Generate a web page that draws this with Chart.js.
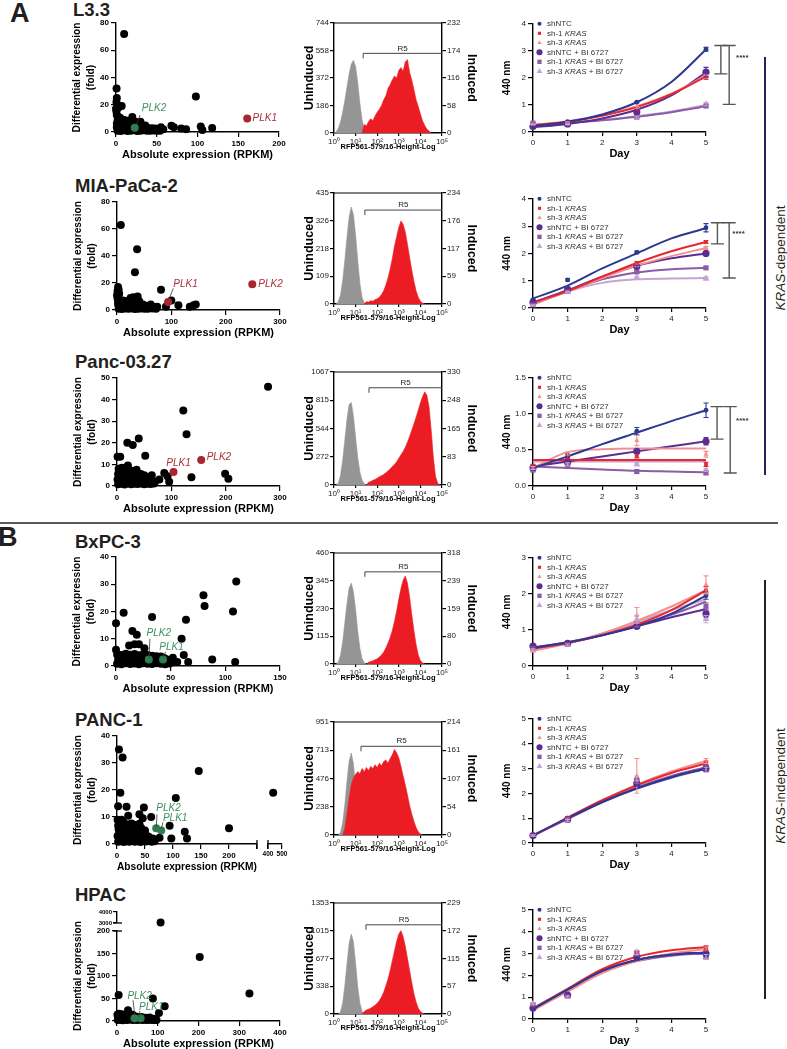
<!DOCTYPE html>
<html>
<head>
<meta charset="utf-8">
<title>PLK expression, induction and growth</title>
<script src="https://cdn.jsdelivr.net/npm/chart.js@4.4.1/dist/chart.umd.min.js"></script>
<style>
  body { margin: 0; background: #fff; font-family: 'Liberation Sans', Arial, sans-serif; }
  #fig { position: relative; width: 787px; height: 1049px; overflow: hidden; }
  .lbl { position: absolute; font-weight: bold; color: #231f20; white-space: nowrap; line-height: 1; }
  .rule { position: absolute; }
  .side { position: absolute; font-size: 13.5px; color: #231f20; white-space: nowrap; line-height: 1;
          transform: translate(-50%, -50%) rotate(-90deg); }
</style>
</head>
<body>
<div id="fig">
  <div class="lbl" style="left:10px;top:0px;font-size:27px">A</div>
  <div class="lbl" style="left:-2px;top:524px;font-size:27px">B</div>
  <div class="lbl" style="left:73px;top:1px;font-size:18.5px">L3.3</div>
  <div class="lbl" style="left:75px;top:177px;font-size:18.5px">MIA-PaCa-2</div>
  <div class="lbl" style="left:75px;top:353px;font-size:18.5px">Panc-03.27</div>
  <div class="lbl" style="left:75px;top:533px;font-size:18.5px">BxPC-3</div>
  <div class="lbl" style="left:75px;top:711px;font-size:18.5px">PANC-1</div>
  <div class="lbl" style="left:75px;top:886px;font-size:18.5px">HPAC</div>
  <div class="rule" style="left:0;top:522px;width:778px;height:1.5px;background:#5a5a5a"></div>
  <div class="rule" style="left:764px;top:57px;width:1.5px;height:418px;background:#23235e"></div>
  <div class="rule" style="left:764px;top:580px;width:1.5px;height:419px;background:#222"></div>
  <div class="side" style="left:781px;top:258px"><i>KRAS</i>-dependent</div>
  <div class="side" style="left:781px;top:786px"><i>KRAS</i>-independent</div>
</div>
<script>
// ---------- scatter data: [RPKM, fold] ----------
const l33Pts = [[10,72],[0.7,32],[1,25],[0.5,22],[1.5,20],[0,17],[0.5,15],[7,19],[3,18],[20,11],[98,26],[68,4.5],[71,3.5],[80,2.5],[86,2],[104,4],[106,1.5],[118,3],[55,3.5],[58,2],
  [2,1],[6,0.8],[10,1.2],[14,0.8],[18,1],[22,1.2],[26,0.8],[30,1],[34,1.2],[38,0.9],[42,1],[46,1.1],[50,0.9],[54,1],
  [4,2.2],[8,2.4],[12,2],[16,2.3],[20,2.1],[24,2.4],[28,2.2],[32,2.3],[36,2],[40,2.2],[44,1.8],[48,1.6],[52,2],
  [1,3.5],[5,3.8],[9,3.2],[13,3.6],[17,3.3],[21,3.8],[27,3.5],[31,3.2],[35,3.6],[39,3],[44,2.8],[48,2.5],
  [3,5],[7,4.8],[11,5.2],[15,4.9],[19,5],[23,4.7],[27,4.5],
  [1,6],[4,6.5],[8,6.2],[12,6.8],[16,6],[20,6.5],[24,5.8],[28,5.5],[32,5],[36,4.8],
  [6,7.5],[12,7.7],[18,7],
  [2,8.5],[6,9],[10,8.8],[14,8.2],[18,8],[24,7.6],[30,7.5],[3,11],[1,12.5],[5,10.5]];
const l33Hits = [[161,10],[23,3.2]];

const miaPts = [[7,63],[37,45],[33,28],[2,17],[1,14],[81,15],[38,10],[100,7],[113,3.5],[90,2.5],[134,2.5],[141,3.5],[145,4],[62,4],[74,2.5],[55,3],[48,4],
  [0,11],[1,8.5],[2,6],[4,12],[3,15],
  [3,1],[9,0.8],[15,1.2],[21,1],[27,1.2],[33,0.8],[39,1],[45,1.1],[51,0.9],[57,1],[65,1.2],[72,1],
  [6,2.5],[12,2.2],[18,2.6],[24,2.3],[30,2.5],[36,2.2],[42,2.4],[48,2],[56,2.3],[62,2],[68,2.2],
  [2,4],[8,4.5],[14,3.8],[20,4.3],[26,3.6],[32,4.4],[38,4],[44,3.5],[50,3.2],
  [4,5.8],[10,5.6],[16,5.5],[22,5.8],[28,5.4],[34,5.7],[40,5.2],
  [5,7.5],[11,7],[17,6.6],[23,7.2],[29,7.8],[35,7.4],[41,6.5],[30,9.5],[25,8.8]];
const miaHits = [[94,6],[249,19]];

const pncPts = [[278,46],[122,35],[128,24],[19,20],[29,19],[40,22],[52,14],[1,13.5],[6,13.5],[20,9.5],[137,4],[199,5.7],[205,3.4],[87,6],[93,4.5],[96,2],[78,3],[70,2],[64,5],[58,4],
  [2,0.8],[8,1],[14,0.7],[20,1.1],[26,0.8],[32,1],[38,0.9],[44,1.2],[50,0.8],[56,1],[62,0.9],[68,1.2],
  [5,2],[11,2],[17,2],[23,2],[29,1.8],[35,2],[41,2],[47,1.9],[53,2],[59,2.2],[65,2.5],
  [1,3],[7,3.3],[13,2.8],[19,3.4],[25,3],[31,2.7],[37,3.2],[43,3],[49,2.6],[55,3.3],
  [5,4.2],[11,4.3],[17,4.5],[23,4.2],[29,4.1],[35,4],[41,4.2],[47,4],
  [2,5.5],[8,6],[14,5.2],[20,5.8],[26,5],[32,5.4],[38,4.8],[44,5.5],[50,5],
  [6,7],[12,6.8],[18,6.7],[26,6.5],[33,6.3],
  [3,8],[9,8.5],[15,7.5],[22,7.8],[30,7],[36,7.5]];
const pncHits = [[104,6.5],[155,12]];

const bxPts = [[110,31],[80,26],[81,22],[107,20],[7,19.5],[33,18],[64,17],[0,15.7],[15,12.8],[19,11.5],[60,10],[88,2.4],[109,1.5],[62,4],[66,1.5],[56,1.5],[12,7.5],[17,8],[21,8],[26,6.5],[0,6],[52,3],[48,2],
  [1,0.8],[5,0.6],[9,1],[13,0.7],[17,0.9],[21,0.6],[25,1],[29,0.8],[33,0.7],[37,1],[41,0.8],[45,0.6],[49,0.9],
  [3,1.6],[7,1.8],[11,1.5],[15,1.7],[19,1.6],[23,1.8],[27,1.5],[31,1.7],[35,1.6],[39,1.8],[43,1.5],[47,1.7],[51,1.4],
  [2,2.5],[6,2.8],[10,2.3],[14,2.7],[18,2.4],[22,2.8],[26,2.3],[34,2.6],[38,2.9],[46,2.5],
  [4,3.3],[8,3.5],[12,3.2],[16,3.4],[20,3.3],[24,3.5],[28,3.2],[32,3.3],[36,3.1],[40,3],[44,2.9],
  [1,4.2],[5,4],[9,4.5],[13,4.1],[17,4.4],[21,3.9],[25,4.3],[29,4],[33,3.8],[37,3.6],[41,3.5]];
const bxHits = [[30,2.4],[43,2.4]];

const p1Pts = [[3.5,35],[10,32],[6,19],[2,14],[17,13.8],[20,10.5],[146,27],[105,17],[48,13.5],[40,11],[46,9.5],[61,10],[94,6.8],[76,2.3],[97,2],[121,4.5],[125,2],[200,5.8],[1,9],[8,9],
  [2,0.8],[7,1],[12,0.7],[17,1],[22,0.8],[27,1.1],[32,0.8],[37,1],[42,0.7],[47,1],[52,0.9],[57,1.1],[62,0.8],[67,1],
  [4,2],[9,1.9],[14,2],[19,2.1],[24,2],[29,2.1],[34,1.8],[39,2],[44,2],[49,2.1],[54,1.9],[59,2],[64,2],
  [1,3],[6,3.3],[11,2.8],[16,3.2],[21,2.9],[26,3.4],[31,3],[36,2.7],[41,3.2],[46,2.9],[51,3.3],[56,2.8],
  [4,4.3],[9,4.5],[14,4.2],[19,4.4],[24,4.1],[29,4.3],[34,4],[39,4.2],[44,4.1],[49,4],
  [3,5.5],[8,6],[13,5.3],[18,5.8],[23,5.2],[28,5.6],[33,5],[38,5.4],[43,6],[50,5],
  [2,6.8],[9,6.8],[16,6.6],[23,6.7],[30,6.5],[37,6.3],
  [5,7.5],[12,8],[19,7.2],[26,7.6],[33,7],[40,7.5]];
const p1Hits = [[70,5.8],[79,5]];
const p1FarPts = [[437,19]];

const hpPts = [[203,142],[325,61],[4,58],[88,50],[117,33],[103,18],[27,24],[38,14],
  [2,2],[8,3],[14,1.5],[20,3],[26,2],[32,4],[38,2],[44,3],[50,2],[56,3.5],[62,2],[68,3],[74,2],[80,3],[86,2],[92,2.5],[97,2],
  [5,5],[11,6],[17,5],[24,6],[30,5],[36,7],[48,5],[54,5],[66,5],[76,5],[84,5],[90,5],
  [3,9],[9,11],[15,8],[21,12],[28,9],[34,11],[46,10],[52,8],[60,9],[70,7],[80,8],[1,14],[5,16],[12,15]];
const hpHits = [[43,6],[58,6]];
const hpHighPts = [[107,3040]];

// ---------- flow histograms: counts per 0.1-decade bin ----------
const l33Gray = [0,8,30,75,140,220,310,400,465,492,450,340,200,90,25,0];            // from 10^0.0
const l33Red = [0,18,15,24,30,26,36,44,50,58,70,78,94,102,112,120,116,132,138,130,150,155,128,112,92,70,56,40,26,16,8,4,0]; // from 10^1.3
const miaGray = [0,10,35,90,170,260,340,380,350,270,170,80,25,5,0];                 // from 10^0.1
const miaRed = [0,5,4,7,6,9,11,14,20,28,40,55,74,96,122,142,162,175,168,152,126,98,72,48,28,14,6,2,0]; // from 10^1.4
const pncGray = [0,20,90,230,420,620,760,780,650,450,260,120,45,12,0];              // from 10^0.1
const pncRed = [0,8,10,14,16,20,24,27,31,36,41,47,54,60,68,78,88,98,110,125,142,160,178,198,218,240,258,272,262,228,160,80,25,5,0]; // from 10^1.5
const bxGray = [0,8,35,90,170,250,315,335,300,225,135,65,22,5,0];                   // from 10^0.1
const bxRed = [0,5,7,9,12,15,20,26,34,46,60,76,96,122,152,186,216,240,252,232,192,142,96,56,26,10,3,0]; // from 10^1.5
const p1Gray = [0,20,100,250,450,620,690,600,400,200,70,15,0];                      // from 10^0.2
const p1Red = [0,12,40,70,95,108,115,120,116,126,120,128,122,130,126,133,128,136,131,139,142,136,145,152,162,156,146,130,112,95,76,56,40,26,14,6,2,0]; // from 10^0.4
const hpGray = [0,25,130,340,610,860,975,880,620,330,130,30,0];                     // from 10^0.2
const hpRed = [0,5,8,10,12,15,18,22,28,35,45,58,72,90,110,130,150,165,172,160,140,115,90,65,42,25,12,5,2,0]; // from 10^1.3

const histTicksL = { l33: ['0','186','372','558','744'], mia: ['0','109','218','326','435'], pnc: ['0','272','544','815','1067'],
                     bx: ['0','115','230','345','460'], p1: ['0','238','476','713','951'], hp: ['0','338','677','1015','1353'] };
const histTicksR = { l33: ['0','58','116','174','232'], mia: ['0','59','117','176','234'], pnc: ['0','83','165','248','330'],
                     bx: ['0','80','159','239','318'], p1: ['0','54','107','161','214'], hp: ['0','57','115','172','229'] };
const decadeLabels = ['10\u2070','10\u00b9','10\u00b2','10\u00b3','10\u2074','10\u2075'];

// ---------- growth (440 nm) ----------
const days = [0, 1, 3, 5];
const fitDays = [0, 1, 2, 3, 4, 5];
const seriesNames = [['shNTC'], ['sh-1 ', 'KRAS'], ['sh-3 ', 'KRAS'], ['shNTC + BI 6727'], ['sh-1 ', 'KRAS', ' + BI 6727'], ['sh-3 ', 'KRAS', ' + BI 6727']];
const seriesColors = ['#2b3990', '#e8262d', '#f1908f', '#5c2d91', '#8b5ca8', '#c5a3d2'];
const seriesStyles = ['circle', 'rect', 'triangle', 'circle', 'rect', 'triangle'];
const seriesSizes = [2.4, 2.6, 2.9, 3.6, 3.6, 3.9];

const l33Mean = [[0.28,0.38,1.1,3.06],[0.25,0.35,0.85,2.0],[0.3,0.36,0.9,2.05],[0.2,0.3,0.74,2.21],[0.33,0.3,0.55,0.96],[0.28,0.28,0.55,1.03]];
const l33Err  = [[0.02,0.02,0.03,0.07],[0.02,0.02,0.04,0.05],[0.02,0.02,0.04,0.06],[0.02,0.02,0.08,0.18],[0.02,0.02,0.04,0.05],[0.02,0.02,0.04,0.06]];
const l33Fit  = [[0.22,0.38,0.65,1.1,1.85,3.05],[0.25,0.38,0.6,0.92,1.4,2.05],[0.26,0.4,0.62,0.95,1.42,2.08],[0.18,0.3,0.5,0.82,1.35,2.2],[0.25,0.33,0.43,0.56,0.73,0.95],[0.26,0.34,0.44,0.58,0.76,1.0]];

const miaMean = [[0.3,1.03,2.04,2.94],[0.2,0.65,1.65,2.42],[0.15,0.6,1.55,2.2],[0.2,0.68,1.52,2.0],[0.15,0.62,1.32,1.47],[0.1,0.58,1.1,1.08]];
const miaErr  = [[0.02,0.04,0.05,0.15],[0.02,0.03,0.05,0.05],[0.02,0.03,0.05,0.05],[0.02,0.03,0.05,0.05],[0.02,0.03,0.05,0.05],[0.02,0.03,0.04,0.05]];
const miaFit  = [[0.35,0.82,1.45,2.0,2.55,2.92],[0.2,0.62,1.15,1.65,2.08,2.42],[0.15,0.6,1.1,1.55,1.9,2.2],[0.2,0.65,1.15,1.55,1.82,2.0],[0.15,0.62,1.05,1.3,1.42,1.47],[0.12,0.6,0.92,1.05,1.08,1.1]];

const pncMean = [[0.25,0.42,0.76,1.05],[0.28,0.4,0.42,0.3],[0.25,0.45,0.63,0.44],[0.25,0.33,0.48,0.62],[0.22,0.28,0.2,0.18],[0.25,0.3,0.3,0.22]];
const pncErr  = [[0.02,0.02,0.05,0.1],[0.02,0.02,0.03,0.03],[0.02,0.02,0.07,0.04],[0.02,0.02,0.03,0.05],[0.02,0.02,0.02,0.02],[0.02,0.02,0.02,0.02]];
const pncFit  = [[0.25,0.41,0.58,0.74,0.9,1.05],[0.36,0.36,0.36,0.36,0.36,0.36],[0.25,0.47,0.51,0.52,0.52,0.52],[0.27,0.34,0.41,0.48,0.55,0.62],[0.27,0.25,0.23,0.21,0.2,0.19],[0.34,0.34,0.34,0.34,0.34,0.34]];

const bxMean = [[0.5,0.62,1.1,1.95],[0.5,0.62,1.15,2.1],[0.42,0.6,1.4,2.25],[0.55,0.63,1.1,1.45],[0.5,0.6,1.15,1.65],[0.45,0.58,1.3,1.3]];
const bxErr  = [[0.03,0.03,0.05,0.1],[0.03,0.03,0.06,0.1],[0.03,0.03,0.22,0.25],[0.03,0.03,0.05,0.1],[0.03,0.03,0.06,0.1],[0.03,0.03,0.1,0.1]];
const bxFit  = [[0.5,0.65,0.85,1.1,1.45,1.95],[0.48,0.64,0.86,1.15,1.55,2.1],[0.42,0.62,0.9,1.25,1.65,2.1],[0.52,0.66,0.86,1.1,1.35,1.58],[0.5,0.64,0.85,1.12,1.42,1.78],[0.45,0.63,0.9,1.22,1.55,1.85]];

const p1Mean = [[0.3,1.0,2.4,3.0],[0.3,1.0,2.5,3.2],[0.3,0.95,2.7,3.3],[0.3,0.95,2.4,3.0],[0.3,0.95,2.5,3.05],[0.3,0.9,2.6,2.95]];
const p1Err  = [[0.03,0.05,0.1,0.1],[0.03,0.05,0.1,0.1],[0.03,0.05,0.7,0.1],[0.03,0.05,0.1,0.1],[0.03,0.05,0.1,0.1],[0.03,0.05,0.1,0.1]];
const p1Fit  = [[0.3,1.0,1.65,2.2,2.65,3.0],[0.3,1.02,1.72,2.32,2.82,3.2],[0.28,1.0,1.72,2.35,2.88,3.3],[0.3,0.98,1.65,2.2,2.65,3.0],[0.3,0.98,1.66,2.24,2.7,3.05],[0.3,0.96,1.63,2.18,2.62,2.98]];

const hpMean = [[0.55,1.05,2.8,3.0],[0.6,1.0,3.0,3.25],[0.7,1.0,3.05,3.2],[0.5,1.1,2.85,3.0],[0.65,1.05,3.0,2.85],[0.7,1.0,3.05,2.85]];
const hpErr  = [[0.05,0.05,0.1,0.1],[0.05,0.05,0.1,0.1],[0.05,0.05,0.1,0.1],[0.05,0.05,0.1,0.1],[0.05,0.05,0.1,0.1],[0.05,0.05,0.1,0.1]];
const hpFit  = [[0.45,1.35,2.2,2.7,2.95,3.05],[0.45,1.38,2.28,2.85,3.15,3.3],[0.4,1.25,2.1,2.65,3.0,3.2],[0.45,1.35,2.2,2.7,2.95,3.05],[0.5,1.35,2.15,2.65,2.9,3.0],[0.5,1.38,2.2,2.7,2.95,3.05]];

// ---------- helpers ----------
const FONT = "'Liberation Sans', Arial, Helvetica, sans-serif";
Chart.defaults.font.family = FONT;
Chart.defaults.color = '#000';
const fig = document.getElementById('fig');

// box the canvas so that the plot area lands on [L, T, R, B]; m = [top, right, bottom, left] margins
function place(area, m) {
  const [L, T, R, B] = area;
  const div = document.createElement('div');
  div.style.cssText = `position:absolute;left:${L - m[3]}px;top:${T - m[0]}px;width:${R - L + m[1] + m[3]}px;height:${B - T + m[0] + m[2]}px`;
  const cv = document.createElement('canvas');
  div.appendChild(cv);
  fig.appendChild(div);
  return cv;
}

function axisStyle(fontSize, weight, color, tickLen) {
  return {
    grid: { display: true, drawOnChartArea: false, drawTicks: true, tickLength: tickLen, color: '#000', lineWidth: 1.2 },
    border: { display: true, color: '#000', width: 1.4 },
    ticks: { font: { size: fontSize, weight }, color, padding: 2, autoSkip: false, maxRotation: 0 },
  };
}

const baseOpts = { animation: false, responsive: true, maintainAspectRatio: false, events: [],
  plugins: { legend: { display: false }, tooltip: { enabled: false } } };

// short marks where an axis is broken
function breakCaps(caps) {
  return { id: 'breakCaps', afterDraw(chart) {
    const { ctx, chartArea: a } = chart;
    ctx.save();
    ctx.strokeStyle = '#000'; ctx.lineWidth = 1.3;
    ctx.beginPath();
    caps.forEach(c => {
      if (c === 'xEnd') { ctx.moveTo(a.right, a.bottom - 4); ctx.lineTo(a.right, a.bottom + 5); }
      if (c === 'xStart') { ctx.moveTo(a.left, a.bottom - 4); ctx.lineTo(a.left, a.bottom + 5); }
      if (c === 'yEnd') { ctx.moveTo(a.left - 4, a.top); ctx.lineTo(a.left + 5, a.top); }
      if (c === 'yStart') { ctx.moveTo(a.left - 4, a.bottom); ctx.lineTo(a.left + 5, a.bottom); }
    });
    ctx.stroke();
    ctx.restore();
  } };
}

function geneLabels(items) {
  return { id: 'geneLabels', afterDatasetsDraw(chart) {
    const { ctx, scales: { x, y } } = chart;
    ctx.save();
    ctx.font = 'italic 10px ' + FONT;
    for (const it of items) {
      if (it.line) {
        ctx.strokeStyle = '#333'; ctx.lineWidth = 0.8;
        ctx.beginPath();
        ctx.moveTo(x.getPixelForValue(it.line[0]), y.getPixelForValue(it.line[1]));
        ctx.lineTo(x.getPixelForValue(it.line[2]), y.getPixelForValue(it.line[3]));
        ctx.stroke();
      }
      ctx.fillStyle = it.color;
      ctx.fillText(it.text, x.getPixelForValue(it.at[0]), y.getPixelForValue(it.at[1]));
    }
    ctx.restore();
  } };
}

const GREEN = '#2f7d4f', DARKRED = '#a8262e';
const GREEN_T = '#3f8f5f', RED_T = '#a8323a';
const DOT = 4;

function scatterPanel(area, xMax, xStep, yMax, yStep, pts, hits, hitColor, labels, opt = {}) {
  const m = [24, opt.mR ?? 10, 30, 46];
  const cv = place(area, m);
  const xa = axisStyle(8, 'bold', '#000', 5);
  const ya = axisStyle(8, 'bold', '#000', 5);
  new Chart(cv, {
    type: 'scatter',
    data: { datasets: [
      { data: hits.map(([x, y]) => ({ x, y })), backgroundColor: hitColor, borderWidth: 0, pointRadius: DOT, clip: false },
      { data: pts.map(([x, y]) => ({ x, y })), backgroundColor: '#000', borderWidth: 0, pointRadius: DOT, clip: false },
    ] },
    options: { ...baseOpts,
      layout: { padding: { top: m[0], right: m[1], left: 0, bottom: 0 } },
      scales: {
        x: { ...xa, type: 'linear', min: 0, max: xMax,
          ticks: { ...xa.ticks, stepSize: xStep, callback: v => (opt.xHide && opt.xHide.includes(v)) ? '' : v },
          title: { display: true, text: 'Absolute expression (RPKM)', font: { size: 11, weight: 'bold' }, padding: 0 },
          afterFit: s => { s.height = m[2]; } },
        y: { ...ya, type: 'linear', min: 0, max: yMax, ticks: { ...ya.ticks, stepSize: yStep },
          title: { display: true, text: ['Differential expression', '(fold)'], font: { size: 10.2, weight: 'bold', lineHeight: 1.4 }, padding: 0 },
          afterFit: s => { s.width = m[3]; } },
      } },
    plugins: [geneLabels(labels), breakCaps(opt.caps || [])],
  });
}

// small companion chart for the far side of a broken axis
function brokenPart(area, m, xr, yr, pts, showX, xTicks, yTicks, caps) {
  const cv = place(area, m);
  const xa = axisStyle(6.5, 'bold', '#000', 5);
  const ya = axisStyle(6, 'bold', '#000', 4);
  new Chart(cv, {
    type: 'scatter',
    data: { datasets: [{ data: pts.map(([x, y]) => ({ x, y })), backgroundColor: '#000', borderWidth: 0, pointRadius: DOT, clip: false }] },
    options: { ...baseOpts,
      layout: { padding: { top: m[0], right: m[1], left: showX ? m[3] : 0, bottom: showX ? 0 : m[2] } },
      scales: {
        x: { ...xa, display: showX, type: 'linear', min: xr[0], max: xr[1],
          afterBuildTicks: s => { if (xTicks) s.ticks = xTicks.map(value => ({ value })); },
          ticks: { ...xa.ticks, padding: 1, callback: v => String(v) },
          afterFit: s => { s.height = showX ? m[2] : 0; } },
        y: { ...ya, display: !showX, type: 'linear', min: yr[0], max: yr[1],
          afterBuildTicks: s => { if (yTicks) s.ticks = yTicks.map(value => ({ value })); },
          ticks: { ...ya.ticks, padding: 1, callback: v => String(v) },
          afterFit: s => { s.width = showX ? 0 : m[3]; } },
      } },
    plugins: [breakCaps(caps)],
  });
}

function histPanel(area, leftMax, leftLabels, rightMax, rightLabels, gray, grayFrom, red, redFrom, r5) {
  const m = [6, 37, 18, 32];
  const cv = place(area, m);
  const bins = (vals, from) => vals.map((v, i) => ({ x: from + i * 0.1, y: v }));
  const xa = axisStyle(8, 'normal', '#222', 3);
  const ya = axisStyle(8, 'normal', '#222', 4);
  const frame = { id: 'frame', afterDraw(chart) {
    const { ctx, chartArea: a, scales: { x, y2 } } = chart;
    ctx.save();
    ctx.strokeStyle = '#000'; ctx.lineWidth = 1.2;
    ctx.beginPath(); ctx.moveTo(a.left, a.top); ctx.lineTo(a.right, a.top); ctx.stroke();
    const x0 = x.getPixelForValue(r5[0]), yy = y2.getPixelForValue(r5[1]);
    ctx.strokeStyle = '#444'; ctx.lineWidth = 1;
    ctx.beginPath(); ctx.moveTo(x0, yy + 5); ctx.lineTo(x0, yy); ctx.lineTo(a.right, yy); ctx.stroke();
    ctx.fillStyle = '#222'; ctx.font = '8px ' + FONT; ctx.textAlign = 'center'; ctx.textBaseline = 'bottom';
    ctx.fillText('R5', (x0 + a.right) / 2, yy - 1);
    ctx.restore();
  } };
  new Chart(cv, {
    type: 'line',
    data: { datasets: [
      { data: bins(red, redFrom), yAxisID: 'y2', borderColor: '#ec1c24', backgroundColor: '#ec1c24', borderWidth: 0.6, fill: 'origin', pointRadius: 0, tension: 0 },
      { data: bins(gray, grayFrom), yAxisID: 'y', borderColor: '#959595', backgroundColor: '#959595', borderWidth: 0.6, fill: 'origin', pointRadius: 0, tension: 0 },
    ] },
    options: { ...baseOpts,
      layout: { padding: { top: m[0], right: 0, left: 0, bottom: 0 } },
      scales: {
        x: { ...xa, type: 'linear', min: 0, max: 5,
          afterBuildTicks: s => { s.ticks = decadeLabels.map((_, i) => ({ value: i })); },
          ticks: { ...xa.ticks, padding: 1, callback: v => decadeLabels[v] },
          title: { display: true, text: 'RFP561-579/16-Height-Log', font: { size: 7.5, weight: 'bold' }, padding: 0 },
          afterFit: s => { s.height = m[2]; } },
        y: { ...ya, type: 'linear', position: 'left', min: 0, max: leftMax,
          afterBuildTicks: s => { s.ticks = leftLabels.map((_, i) => ({ value: leftMax * i / 4 })); },
          ticks: { ...ya.ticks, padding: 1, callback: (v, i) => leftLabels[i] },
          title: { display: true, text: 'Uninduced', font: { size: 12.5, weight: 'bold' }, padding: 0 },
          afterFit: s => { s.width = m[3]; } },
        y2: { ...ya, type: 'linear', position: 'right', min: 0, max: rightMax,
          afterBuildTicks: s => { s.ticks = rightLabels.map((_, i) => ({ value: rightMax * i / 4 })); },
          ticks: { ...ya.ticks, padding: 1, callback: (v, i) => rightLabels[i] },
          title: { display: true, text: 'Induced', font: { size: 12.5, weight: 'bold' }, padding: 0 },
          afterFit: s => { s.width = m[1]; } },
      } },
    plugins: [frame],
  });
}

function growthExtras(errs, brackets, stars) {
  return { id: 'growthExtras', afterDatasetsDraw(chart) {
    const { ctx, chartArea: a, scales: { x, y } } = chart;
    ctx.save();
    // error bars
    chart.data.datasets.forEach(ds => {
      if (ds.errIndex === undefined) return;
      const e = errs[ds.errIndex];
      ctx.strokeStyle = ds.backgroundColor; ctx.lineWidth = 1.1;
      ds.data.forEach((p, i) => {
        const px = x.getPixelForValue(p.x), lo = y.getPixelForValue(p.y - e[i]), hi = y.getPixelForValue(p.y + e[i]);
        ctx.beginPath();
        ctx.moveTo(px, lo); ctx.lineTo(px, hi);
        ctx.moveTo(px - 2.5, hi); ctx.lineTo(px + 2.5, hi);
        ctx.moveTo(px - 2.5, lo); ctx.lineTo(px + 2.5, lo);
        ctx.stroke();
      });
    });
    // legend
    ctx.textBaseline = 'middle';
    seriesNames.forEach((parts, i) => {
      const yy = a.top + i * 9.5, mx = a.left + 6.5;
      ctx.fillStyle = seriesColors[i];
      Chart.helpers.drawPoint(ctx, { pointStyle: seriesStyles[i], radius: seriesSizes[i] * 0.85, rotation: 0, borderWidth: 0 }, mx, yy);
      let tx = a.left + 14;
      ctx.fillStyle = '#333';
      parts.forEach(seg => {
        ctx.font = (seg === 'KRAS' ? 'italic ' : '') + '8px ' + FONT;
        ctx.fillText(seg, tx, yy);
        tx += ctx.measureText(seg).width;
      });
    });
    // significance brackets
    if (brackets) {
      ctx.strokeStyle = '#555'; ctx.lineWidth = 1.4;
      brackets.forEach(([bx, y1, y2]) => {
        const px = x.getPixelForValue(bx), p1 = y.getPixelForValue(y1), p2 = y.getPixelForValue(y2);
        ctx.beginPath();
        ctx.moveTo(px, p1); ctx.lineTo(px, p2);
        ctx.moveTo(px - 6.5, p1); ctx.lineTo(px + 6.5, p1);
        ctx.moveTo(px - 6.5, p2); ctx.lineTo(px + 6.5, p2);
        ctx.stroke();
      });
      ctx.fillStyle = '#333'; ctx.font = 'bold 8px ' + FONT; ctx.textAlign = 'center';
      ctx.fillText('****', x.getPixelForValue(stars[0]), y.getPixelForValue(stars[1]));
    }
    ctx.restore();
  } };
}

function growthPanel(area, yMax, yStep, means, errs, fits, brackets, stars, decimals) {
  const m = [6, 48, 29, 32];
  const cv = place(area, m);
  const datasets = [];
  means.forEach((row, i) => datasets.push({
    data: row.map((v, k) => ({ x: days[k], y: v })), errIndex: i, showLine: false,
    pointStyle: seriesStyles[i], pointRadius: seriesSizes[i], backgroundColor: seriesColors[i], borderWidth: 0, clip: false,
  }));
  fits.forEach((row, i) => datasets.push({
    data: row.map((v, k) => ({ x: fitDays[k], y: v })), borderColor: seriesColors[i], borderWidth: 2,
    pointRadius: 0, cubicInterpolationMode: 'monotone', fill: false, clip: false,
  }));
  const xa = axisStyle(8, 'normal', '#222', 4);
  const ya = axisStyle(8, 'normal', '#222', 5);
  new Chart(cv, {
    type: 'line',
    data: { datasets },
    options: { ...baseOpts,
      layout: { padding: { top: m[0], right: m[1], left: 0, bottom: 0 } },
      scales: {
        x: { ...xa, type: 'linear', min: 0, max: 5, ticks: { ...xa.ticks, stepSize: 1 },
          title: { display: true, text: 'Day', font: { size: 11, weight: 'bold' }, padding: 0 },
          afterFit: s => { s.height = m[2]; } },
        y: { ...ya, type: 'linear', min: 0, max: yMax,
          ticks: { ...ya.ticks, stepSize: yStep, callback: v => decimals ? v.toFixed(decimals) : v },
          title: { display: true, text: '440 nm', font: { size: 10, weight: 'bold' }, padding: 0 },
          afterFit: s => { s.width = m[3]; } },
      } },
    plugins: [growthExtras(errs, brackets, stars)],
  });
}

// ---------- panel A ----------
scatterPanel([116, 23, 279, 132], 200, 50, 80, 20, l33Pts, l33Hits, [DARKRED, GREEN], [
  { text: 'PLK2', at: [31.6, 15.4], color: GREEN_T, line: [25.4, 5.9, 29.5, 12.5] },
  { text: 'PLK1', at: [167.6, 8.1], color: RED_T },
]);
histPanel([334, 23, 442, 133], 744, histTicksL.l33, 232, histTicksR.l33, l33Gray, 0.0, l33Red, 1.3, [1.35, 168]);
growthPanel([533, 23, 706, 132], 4, 1, l33Mean, l33Err, l33Fit, [[5.43, 3.2, 2.15], [5.67, 3.2, 1.02]], [6.05, 2.74], 0);

scatterPanel([117, 202, 280, 310], 300, 100, 80, 20, miaPts, miaHits, [DARKRED, DARKRED], [
  { text: 'PLK1', at: [103.6, 17.2], color: RED_T, line: [96.3, 8.6, 103.6, 16] },
  { text: 'PLK2', at: [260, 17.2], color: RED_T },
]);
histPanel([334, 193, 442, 304], 435, histTicksL.mia, 234, histTicksR.mia, miaGray, 0.1, miaRed, 1.4, [1.43, 198]);
growthPanel([533, 198, 706, 308], 4, 1, miaMean, miaErr, miaFit, [[5.33, 3.12, 2.35], [5.67, 3.12, 1.1]], [5.94, 2.73], 0);

scatterPanel([117, 378, 280, 486], 300, 100, 50, 10, pncPts, pncHits, [DARKRED, DARKRED], [
  { text: 'PLK1', at: [90.6, 9.3], color: RED_T },
  { text: 'PLK2', at: [165, 12], color: RED_T },
]);
histPanel([334, 372, 442, 485], 1067, histTicksL.pnc, 330, histTicksR.pnc, pncGray, 0.1, pncRed, 1.5, [1.62, 284]);
growthPanel([533, 377, 706, 486], 1.5, 0.5, pncMean, pncErr, pncFit, [[5.32, 1.1, 0.65], [5.7, 1.1, 0.18]], [6.05, 0.9], 1);

// ---------- panel B ----------
scatterPanel([116, 557, 280, 666], 150, 50, 40, 10, bxPts, bxHits, [GREEN, GREEN], [
  { text: 'PLK2', at: [28, 11], color: GREEN_T, line: [30.2, 3, 31, 10] },
  { text: 'PLK1', at: [39.6, 6], color: GREEN_T, line: [43, 3.3, 45.4, 5.2] },
]);
histPanel([334, 553, 442, 664], 460, histTicksL.bx, 318, histTicksR.bx, bxGray, 0.1, bxRed, 1.5, [1.43, 264]);
growthPanel([533, 557, 706, 666], 3, 1, bxMean, bxErr, bxFit, null, null, 0);

scatterPanel([117, 736, 257, 844], 250, 50, 40, 10, p1Pts, p1Hits, [GREEN, GREEN], [
  { text: 'PLK2', at: [70.3, 12.2], color: GREEN_T, line: [70.3, 6.4, 71.4, 11] },
  { text: 'PLK1', at: [82, 8.7], color: GREEN_T, line: [79.3, 5.8, 82, 8] },
], { xHide: [250], mR: 6, caps: ['xEnd'] });
brokenPart([268, 736, 282, 844], [6, 8, 30, 8], [400, 500], [0, 40], p1FarPts, true, [400, 500], null, ['xStart']);
histPanel([334, 722, 442, 835], 951, histTicksL.p1, 214, histTicksR.p1, p1Gray, 0.2, p1Red, 0.4, [1.25, 168]);
growthPanel([533, 718, 706, 843], 5, 1, p1Mean, p1Err, p1Fit, null, null, 0);

scatterPanel([117, 931, 280, 1021], 400, 100, 200, 50, hpPts, hpHits, [GREEN, GREEN], [
  { text: 'PLK2', at: [25.5, 50], color: GREEN_T, line: [39.3, 46, 43.5, 14] },
  { text: 'PLK1', at: [54, 25.4], color: GREEN_T, line: [56, 22, 54, 9] },
], { caps: ['yEnd'] });
brokenPart([117, 912, 280, 923], [6, 10, 6, 46], [0, 400], [3000, 4000], hpHighPts, false, null, [3000, 4000], ['yStart']);
histPanel([334, 903, 442, 1014], 1353, histTicksL.hp, 229, histTicksR.hp, hpGray, 0.2, hpRed, 1.3, [1.48, 184]);
growthPanel([533, 909, 706, 1019], 5, 1, hpMean, hpErr, hpFit, null, null, 0);
</script>
</body>
</html>
